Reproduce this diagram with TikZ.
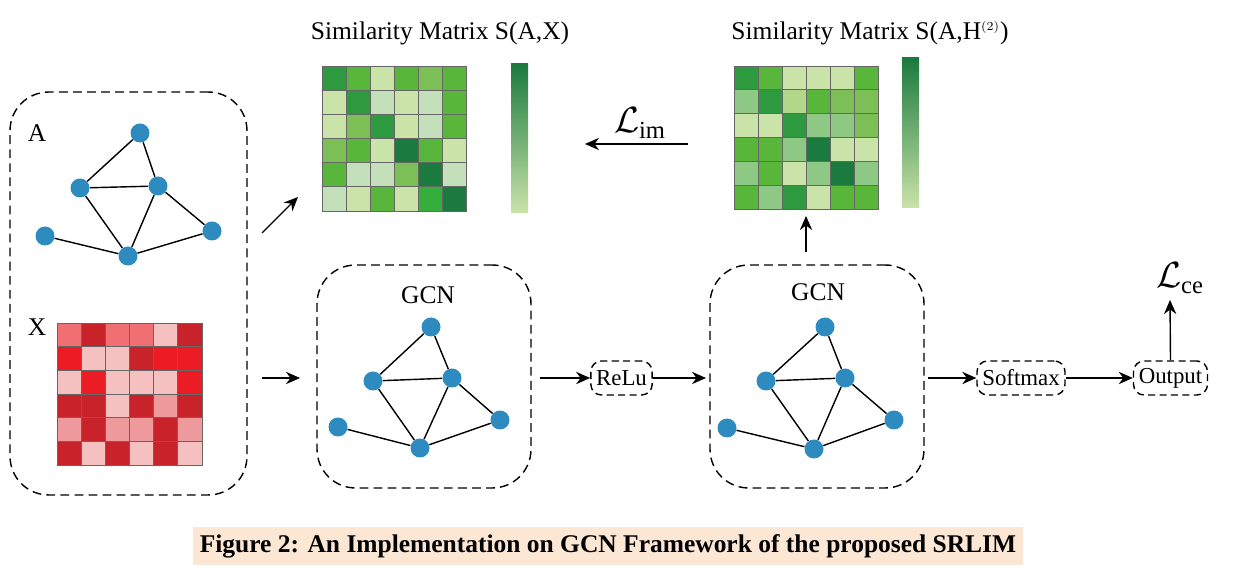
\documentclass[tikz,border=0pt]{standalone}
\usepackage{fontspec}
\setmainfont{Liberation Serif}
\usetikzlibrary{arrows.meta}
\definecolor{G0}{HTML}{CAE3A9}\definecolor{Gb}{HTML}{C4E0BA}\definecolor{Gc}{HTML}{B3D78A}
\definecolor{G1}{HTML}{8DC985}\definecolor{G2}{HTML}{7CBF56}\definecolor{G3}{HTML}{58B73A}
\definecolor{G4}{HTML}{2E9A3F}\definecolor{G5}{HTML}{1B7A3E}\definecolor{G6}{HTML}{35AE3C}
\definecolor{R0}{HTML}{F5C0C0}\definecolor{R1}{HTML}{EF6F72}\definecolor{R2}{HTML}{C8232B}
\definecolor{R3}{HTML}{EC1C24}\definecolor{Rm}{HTML}{EE9A9C}
\definecolor{nodeblue}{HTML}{2E8BC0}\definecolor{capbg}{HTML}{FCE6D4}
\tikzset{
 dbox/.style={draw,thick,dashed,dash pattern=on 5pt off 3pt,rounded corners=22pt},
 sbox/.style={draw,thick,dashed,dash pattern=on 4pt off 2.5pt,rounded corners=6pt,minimum height=0.68cm,inner sep=3pt,font=\fontsize{13}{15}\selectfont},
 gn/.style={circle,fill=nodeblue,inner sep=0pt,minimum size=0.38cm},
 ge/.style={thick},
 arr/.style={thick,-{Stealth[length=8pt,width=7pt]}},
 lbl/.style={font=\fontsize{14.5}{17}\selectfont},
 cell/.style={draw=black!60,line width=0.5pt}
}
\newcommand{\mymatrix}[5]{% x0,y0,w,h,rows
 \foreach \row [count=\i] in {#5}{
  \foreach \c [count=\j] in \row{
   \fill[\c] ({#1+(\j-1)*#3/6},{#2+(\i-1)*#4/6}) rectangle ++({#3/6},{#4/6});
   \draw[cell] ({#1+(\j-1)*#3/6},{#2+(\i-1)*#4/6}) rectangle ++({#3/6},{#4/6});
  }}}
\newcommand{\mygraph}[7]{% prefix, 6 coords
 \node[gn] (#1a) at #2 {};\node[gn] (#1b) at #3 {};\node[gn] (#1c) at #4 {};
 \node[gn] (#1d) at #5 {};\node[gn] (#1e) at #6 {};\node[gn] (#1f) at #7 {};
 \draw[ge] (#1a)--(#1b) (#1a)--(#1c) (#1b)--(#1c) (#1b)--(#1e) (#1c)--(#1e) (#1c)--(#1f) (#1d)--(#1e) (#1e)--(#1f);}
\begin{document}
\begin{tikzpicture}[x=0.02cm,y=-0.02cm]
\useasboundingbox (0,0) rectangle (1240,573);
% left box
\node[dbox,minimum width=4.74cm,minimum height=8.06cm] (left) at (128.5,293.5) {};
\node[lbl] (la) at (37,133) {A};
\node[lbl] (lx) at (37,327) {X};
\mygraph{A}{(140,133)}{(80,188)}{(158,186)}{(45,236)}{(128,256)}{(212,231)}
\mymatrix{57}{323}{145}{142}{{R1,R2,R1,R1,R0,R2},{R3,R0,R0,R2,R3,R3},{R0,R3,R0,R0,R0,R3},{R2,R2,R0,R2,Rm,R2},{Rm,R2,Rm,Rm,R2,Rm},{R2,R0,R2,R0,R2,R0}}
% similarity 1
\node[lbl] (t1) at (440,33) {Similarity Matrix S(A,X)};
\mymatrix{322}{66}{144}{145}{{G4,G3,G0,G3,G2,G3},{G0,G4,Gb,G0,Gb,G3},{G0,G2,G4,G0,Gb,G3},{G2,G3,G0,G5,G3,G0},{G3,Gb,Gb,G2,G5,Gb},{Gb,G0,G3,G0,G6,G5}}
\shade[top color=G5,bottom color=G0] (511,64) rectangle (528,213);
% similarity 2
\node[lbl] (t2) at (870,33) {Similarity Matrix S(A,H$^{\scriptscriptstyle(2)}$)};
\mymatrix{734}{66}{144}{143}{{G4,G3,G0,G0,G0,G3},{G1,G4,Gc,G3,G2,G2},{G0,G0,G4,G1,G1,G2},{G3,G3,G1,G5,G0,G0},{G1,G3,G0,G1,G5,G1},{G3,G1,G4,G0,G3,G3}}
\shade[top color=G5,bottom color=G0] (902,58) rectangle (919,208);
\coordinate (mat1) at (585,144);\coordinate (mat2s) at (688,144);
\draw[arr] (mat2s) -- (mat1);
\node[font=\fontsize{20}{22}\selectfont] (lim) at (640,123) {$\mathcal{L}_{\mathrm{im}}$};
\coordinate (ua) at (262,233);\coordinate (ub) at (298,197);
\draw[arr] (ua)--(ub);
% GCN 1
\node[dbox,minimum width=4.28cm,minimum height=4.46cm] (g1) at (424,376.5) {};
\node[lbl] (g1l) at (428,295) {GCN};
\mygraph{B}{(431,327)}{(373,381)}{(452,378)}{(338,427)}{(420,448)}{(500,420)}
% GCN 2
\node[dbox,minimum width=4.28cm,minimum height=4.46cm] (g2) at (817,376.5) {};
\node[lbl] (g2l) at (818,292) {GCN};
\mygraph{C}{(825,327)}{(766,381)}{(845,378)}{(727,428)}{(814,449)}{(894,420)}
\coordinate (u2a) at (806,252);\coordinate (u2b) at (806,216);
\draw[arr] (u2a)--(u2b);
% pipeline
\node[sbox] (relu) at (621.5,378) {ReLu};
\node[sbox] (soft) at (1021,378) {Softmax};
\node[sbox] (out) at (1170.5,378) {Output};
\coordinate (xa) at (262,378);\coordinate (xb) at (300,378);
\draw[arr] (xa)--(xb);
\coordinate (p1) at (540,378);\draw[arr] (p1)--(relu.west);
\coordinate (p2) at (706,378);\draw[arr] (relu.east)--(p2);
\coordinate (p3) at (928,378);\draw[arr] (p3)--(soft.west);
\draw[arr] (soft.east)--(out.west);
\coordinate (ce) at (1170,300);\draw[arr] (out.north)--(ce);
\node[font=\fontsize{20}{22}\selectfont] (lce) at (1180,278) {$\mathcal{L}_{\mathrm{ce}}$};
% caption
\node[fill=capbg,font=\bfseries\fontsize{14.5}{17}\selectfont,inner sep=4pt] (cap) at (608,546) {Figure 2: An Implementation on GCN Framework of the proposed SRLIM};
\end{tikzpicture}
\end{document}
